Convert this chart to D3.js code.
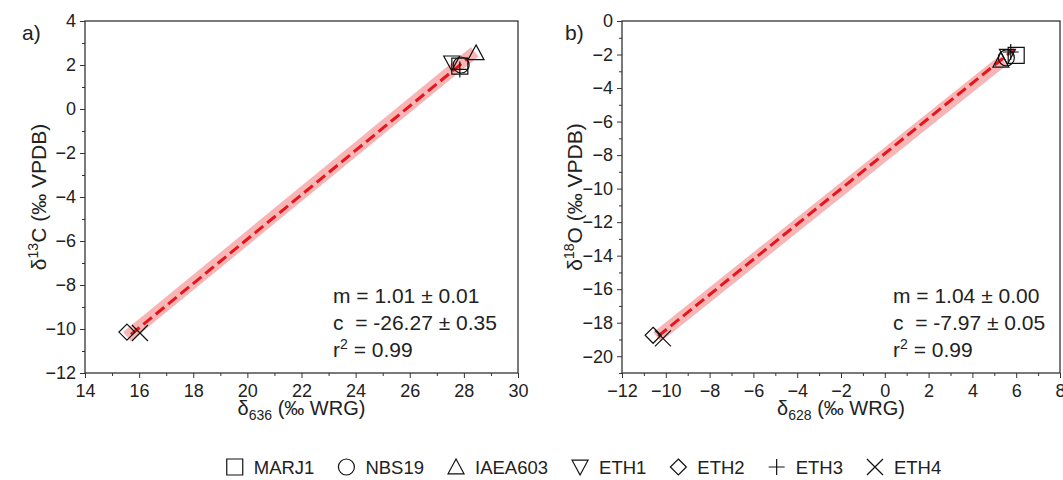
<!DOCTYPE html>
<html>
<head>
<meta charset="utf-8">
<title>Calibration</title>
<script src="https://cdn.jsdelivr.net/npm/d3@7"></script>
<style>
  body { margin: 0; background: #fff; }
  text { font-family: "Liberation Sans", Arial, sans-serif; fill: #222; }
</style>
</head>
<body>
<div id="chart"></div>
<script>
// sample names (legend order)
var groups = ["MARJ1", "NBS19", "IAEA603", "ETH1", "ETH2", "ETH3", "ETH4"];

// panel a: d636 (x) vs d13C (y)
var d636 = [27.85, 27.9, 28.45, 27.55, 15.55, 27.85, 16.03];
var d13C = [1.95, 2.0, 2.55, 2.1, -10.14, 1.8, -10.18];
// panel b: d628 (x) vs d18O (y)
var d628 = [6.0, 5.55, 5.3, 5.6, -10.58, 5.75, -10.13];
var d18O = [-2.05, -2.2, -2.35, -2.1, -18.75, -1.85, -18.93];

// fitted lines (band + dashed line ends)
var bandAX = [15.55, 28.4], bandAY = [-10.35, 2.6];
var fitAX = [15.7, 28.15], fitAY = [-10.25, 2.3];
var bandBX = [-10.4, 5.4], bandBY = [-18.85, -2.35];
var fitBX = [-10.35, 5.9], fitBY = [-18.8, -1.7];

// fit statistics
var statsA = ["m = 1.01 \u00b1 0.01", "c\u00a0 = -26.27 \u00b1 0.35", "0.99"];
var statsB = ["m = 1.04 \u00b1 0.00", "c\u00a0 = -7.97 \u00b1 0.05", "0.99"];

// axis ranges / ticks
var xDomA = [14, 30], yDomA = [-12, 4];
var xDomB = [-12, 8], yDomB = [-21, 0];
var xTicksA = [14, 16, 18, 20, 22, 24, 26, 28, 30];
var yTicksA = [-12, -10, -8, -6, -4, -2, 0, 2, 4];
var xTicksB = [-12, -10, -8, -6, -4, -2, 0, 2, 4, 6, 8];
var yTicksB = [-20, -18, -16, -14, -12, -10, -8, -6, -4, -2, 0];

var W = 1063, H = 480;
var svg = d3.select("#chart").append("svg").attr("width", W).attr("height", H);

// marker paths
function marker(i, r) {
  var k = r * 0.85;
  switch (i) {
    case 0: return "M" + (-r) + "," + (-r) + "h" + 2*r + "v" + 2*r + "h" + (-2*r) + "Z";
    case 1: return d3.arc()({innerRadius: 0, outerRadius: r, startAngle: 0, endAngle: 2*Math.PI});
    case 2: return "M0," + (-r) + "L" + r + "," + k + "L" + (-r) + "," + k + "Z";
    case 3: return "M0," + r + "L" + r + "," + (-k) + "L" + (-r) + "," + (-k) + "Z";
    case 4: return "M0," + (-r) + "L" + r + ",0L0," + r + "L" + (-r) + ",0Z";
    case 5: return "M" + (-r) + ",0H" + r + "M0," + (-r) + "V" + r;
    case 6: return "M" + (-r) + "," + (-r) + "L" + r + "," + r + "M" + r + "," + (-r) + "L" + (-r) + "," + r;
  }
}

function panel(o) {
  var x = d3.scaleLinear().domain(o.xDom).range([o.left, o.right]);
  var y = d3.scaleLinear().domain(o.yDom).range([o.bottom, o.top]);
  var g = svg.append("g");

  // minor ticks
  var xMinor = d3.range(o.xDom[0], o.xDom[1] + 0.5, 1).filter(function(v){ return o.xTicks.indexOf(v) < 0; });
  var yMinor = d3.range(o.yDom[0], o.yDom[1] + 0.5, 1).filter(function(v){ return o.yTicks.indexOf(v) < 0; });

  g.append("g").attr("transform", "translate(0," + o.bottom + ")")
    .call(d3.axisBottom(x).tickValues(xMinor).tickSize(3).tickFormat(""))
    .call(function(s){ s.select(".domain").remove(); s.selectAll("line").attr("stroke", "#333"); });
  g.append("g").attr("transform", "translate(" + o.left + ",0)")
    .call(d3.axisLeft(y).tickValues(yMinor).tickSize(3).tickFormat(""))
    .call(function(s){ s.select(".domain").remove(); s.selectAll("line").attr("stroke", "#333"); });

  var xa = g.append("g").attr("transform", "translate(0," + o.bottom + ")")
    .call(d3.axisBottom(x).tickValues(o.xTicks).tickSize(5).tickPadding(6).tickSizeOuter(0));
  var ya = g.append("g").attr("transform", "translate(" + o.left + ",0)")
    .call(d3.axisLeft(y).tickValues(o.yTicks).tickSize(5).tickPadding(4).tickSizeOuter(0));
  [xa, ya].forEach(function(a){
    a.select(".domain").remove();
    a.selectAll("line").attr("stroke", "#333");
    a.selectAll("text").style("font-family", "Liberation Sans, Arial, sans-serif")
      .style("font-size", "18px").attr("fill", "#222");
  });

  // frame
  g.append("rect").attr("x", o.left).attr("y", o.top)
    .attr("width", o.right - o.left).attr("height", o.bottom - o.top)
    .attr("fill", "none").attr("stroke", "#333").attr("stroke-width", 1.3);

  var line = d3.line().x(function(d){ return x(d[0]); }).y(function(d){ return y(d[1]); });

  // confidence band + fit
  g.append("path").datum(d3.zip(o.bandX, o.bandY)).attr("d", line)
    .attr("stroke", "#f6a8a8").attr("stroke-width", 12).attr("fill", "none").attr("opacity", 0.85);
  g.append("path").datum(d3.zip(o.fitX, o.fitY)).attr("d", line)
    .attr("stroke", "#e8141c").attr("stroke-width", 3).attr("stroke-dasharray", "11,5").attr("fill", "none");

  // points
  g.selectAll(".pt").data(groups).enter().append("path")
    .attr("class", "pt")
    .attr("transform", function(d, i){ return "translate(" + x(o.xs[i]) + "," + y(o.ys[i]) + ")"; })
    .attr("d", function(d, i){ return marker(i, 8); })
    .attr("fill", "none").attr("stroke", "#111").attr("stroke-width", 1.2);

  // stats
  var st = g.append("g").style("font-size", "21px");
  st.append("text").attr("x", o.statX).attr("y", 303).text(o.stats[0]);
  st.append("text").attr("x", o.statX).attr("y", 330).text(o.stats[1]);
  var r2 = st.append("text").attr("x", o.statX).attr("y", 357);
  r2.append("tspan").text("r");
  r2.append("tspan").attr("dy", -8).style("font-size", "14px").text("2");
  r2.append("tspan").attr("dy", 8).text(" = " + o.stats[2]);

  // panel letter
  g.append("text").attr("x", o.letterX).attr("y", 40).style("font-size", "21px").text(o.letter);

  // x title
  var xt = g.append("text").attr("x", (o.left + o.right) / 2).attr("y", 415)
    .attr("text-anchor", "middle").style("font-size", "20px");
  xt.append("tspan").text("\u03b4");
  xt.append("tspan").attr("dy", 5).style("font-size", "14px").text(o.xSub);
  xt.append("tspan").attr("dy", -5).text(" (\u2030 WRG)");

  // y title
  var yt = g.append("text").attr("transform", "translate(" + o.yTitleX + "," + (o.top + o.bottom) / 2 + ") rotate(-90)")
    .attr("text-anchor", "middle").style("font-size", "21px");
  yt.append("tspan").text("\u03b4");
  yt.append("tspan").attr("dy", -8).style("font-size", "14px").text(o.ySup);
  yt.append("tspan").attr("dy", 8).text(o.yEl + " (\u2030 VPDB)");
}

panel({left: 85, right: 518, top: 21, bottom: 373,
  xDom: xDomA, yDom: yDomA, xTicks: xTicksA, yTicks: yTicksA,
  xs: d636, ys: d13C, bandX: bandAX, bandY: bandAY, fitX: fitAX, fitY: fitAY,
  stats: statsA, statX: 333, letter: "a)", letterX: 22,
  xSub: "636", ySup: "13", yEl: "C", yTitleX: 46});

panel({left: 622, right: 1060, top: 21, bottom: 373,
  xDom: xDomB, yDom: yDomB, xTicks: xTicksB, yTicks: yTicksB,
  xs: d628, ys: d18O, bandX: bandBX, bandY: bandBY, fitX: fitBX, fitY: fitBY,
  stats: statsB, statX: 893, letter: "b)", letterX: 565,
  xSub: "628", ySup: "18", yEl: "O", yTitleX: 582});

// legend along the bottom
var leg = svg.append("g").style("font-size", "18.5px");
var items = leg.selectAll("g").data(groups).enter().append("g");
items.append("path").attr("d", function(d, i){ return marker(i, 8); })
  .attr("fill", "none").attr("stroke", "#111").attr("stroke-width", 1.2);
items.append("text").attr("x", 19).attr("y", 6.5).text(function(d){ return d; });
var cx = 0;
items.each(function(d, i){
  var w = d3.select(this).select("text").node().getComputedTextLength();
  d3.select(this).attr("transform", "translate(" + (cx + 8) + ",0)");
  cx += 16 + 19 + w + 16;
});
cx -= 16;
leg.attr("transform", "translate(" + (588 - cx / 2) + ",467)");
</script>
</body>
</html>
